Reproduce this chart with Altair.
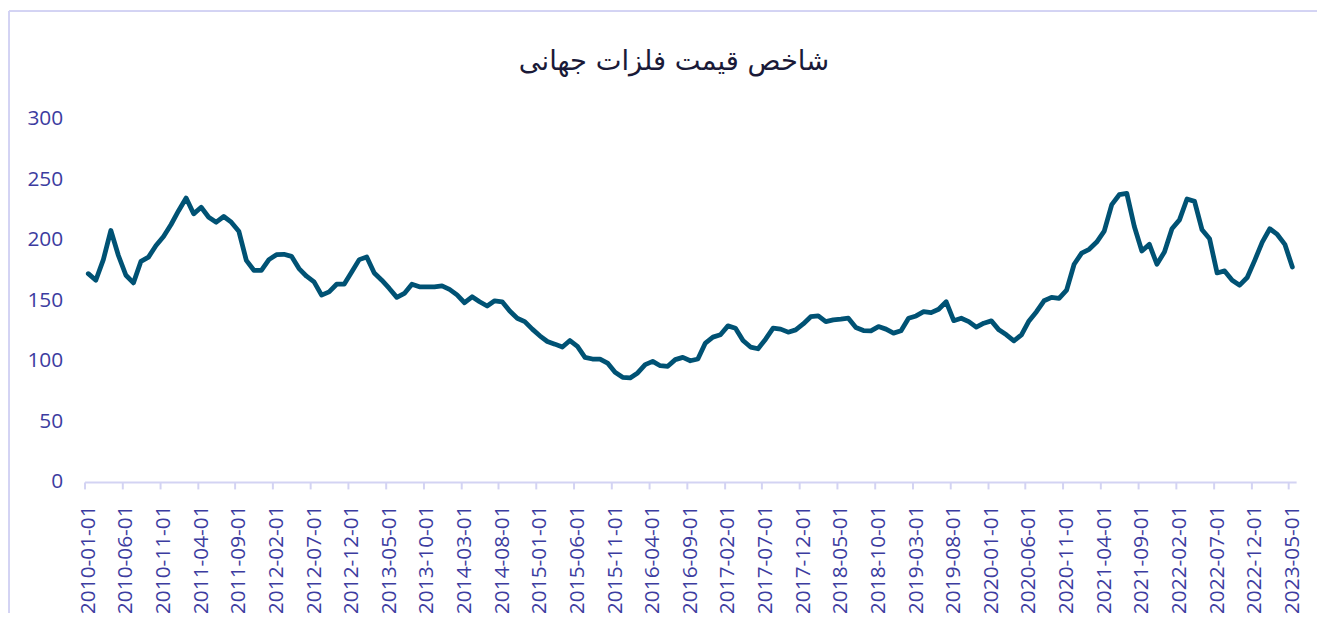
import altair as alt
import pandas as pd

# Monthly index values, 2010-01 .. 2023-05
values = [
    172, 166.6, 183.6, 207.7, 187, 170.7, 164.4, 182.2, 185.7, 195.3,
    202.7, 212.6, 224, 234.5, 221.4, 226.8, 218.6, 214.5, 219.2, 214.5,
    207.1, 183, 174.8, 174.8, 183.6, 187.7, 188, 186.3, 176.2, 169.9,
    165.2, 154.3, 157, 163.3, 163.3, 173.4, 183.6, 185.8, 172.6, 166.6,
    159.8, 152.4, 155.7, 163.3, 161.1, 161.1, 161.1, 162, 159, 154.5,
    148, 152.9, 148.8, 145.3, 149.6, 148.8, 141.2, 135.2, 132.4, 126.2,
    120.7, 116, 113.8, 111.4, 116.8, 111.9, 102.9, 101.5, 101.5, 98.2,
    90.5, 86.4, 85.9, 90, 96.9, 99.6, 96, 95.5, 101, 102.9,
    100.1, 101.5, 114.7, 119.6, 121.5, 128.9, 127, 116.8, 111.4, 110,
    117.9, 127, 126.2, 123.7, 125.6, 130.5, 136.5, 137.1, 132.4, 133.8,
    134.4, 135.2, 127.5, 125, 124.8, 128.3, 126.2, 122.9, 124.8, 135.2,
    137.1, 140.6, 139.8, 142.6, 148.8, 133.2, 135.2, 132.4, 127.8, 131.1,
    133, 125.6, 121.5, 116.6, 121.5, 133, 140.6, 149.6, 152.4, 151.6,
    158.4, 179.8, 189, 192.1, 198.1, 207.1, 229, 237.2, 238.3, 211,
    190.7, 196.2, 179.8, 189.9, 209.1, 216.4, 233.7, 231.7, 208.2, 200.8,
    172.6, 174.3, 166.6, 162.5, 168.8, 183, 198.1, 209.1, 204.4, 196.2,
    177.5,
]
dates = [d.strftime("%Y-%m-%d") for d in pd.date_range("2010-01-01", periods=len(values), freq="MS")]
idx = list(range(len(values)))
y_ticks = [0, 50, 100, 150, 200, 250, 300]
x_label_idx = list(range(0, len(values), 5))

title_text = "شاخص قیمت فلزات جهانی"

df = pd.DataFrame({"i": idx, "date": dates, "value": values})
title_df = pd.DataFrame({"t": [title_text]})

W = 1219
H = 365.5
step = W / len(values)
label_color = "#3c3ca0"
axis_color = "#d3d3f3"

label_expr = (
    "(2010 + floor(datum.value / 12)) + '-' + "
    "((datum.value % 12) + 1 < 10 ? '0' : '') + ((datum.value % 12) + 1) + '-01'"
)

line = alt.Chart(df).mark_line(color="#005274", strokeWidth=4.8, strokeJoin="round", strokeCap="round").encode(
    x=alt.X(
        "i:Q",
        scale=alt.Scale(domain=[-0.5, len(values) - 0.5], nice=False, zero=False),
        axis=alt.Axis(
            values=x_label_idx,
            labelExpr=label_expr,
            title=None,
            grid=False,
            labelAngle=270,
            labelFontSize=21,
            labelFont="Open Sans",
            labelColor=label_color,
            labelPadding=16,
            labelOverlap=False,
            labelFlush=False,
            labelBound=False,
            tickOffset=-step / 2,
            labelOffset=step / 2,
            tickSize=7,
            tickWidth=2,
            tickColor=axis_color,
            domainColor=axis_color,
            domainWidth=2,
        ),
    ),
    y=alt.Y(
        "value:Q",
        scale=alt.Scale(domain=[0, 300], nice=False),
        axis=alt.Axis(
            values=y_ticks,
            title=None,
            grid=False,
            domain=False,
            ticks=False,
            labelPadding=22,
            labelFontSize=21,
            labelFont="Open Sans",
            labelColor=label_color,
        ),
    ),
)

border_left = alt.Chart(df).mark_rule(color=axis_color, strokeWidth=1.5).encode(
    x=alt.value(-76), y=alt.value(-108), y2=alt.value(530)
)
border_top = alt.Chart(df).mark_rule(color=axis_color, strokeWidth=1.5).encode(
    x=alt.value(-76), x2=alt.value(1240), y=alt.value(-108)
)

title = alt.Chart(title_df).mark_text(
    font="DejaVu Sans", fontSize=27.5, color="#1a1a38", align="center", baseline="middle"
).encode(text="t:N", x=alt.value(593), y=alt.value(-57))

chart = alt.layer(border_left, border_top, line, title).properties(
    width=W,
    height=H,
    autosize=alt.AutoSizeParams(type="none"),
    padding={"left": 77, "top": 109.5, "right": 21, "bottom": 130},
).configure_view(stroke=None)

chart.save("out.html", embed_options={"renderer": "svg", "actions": False})
